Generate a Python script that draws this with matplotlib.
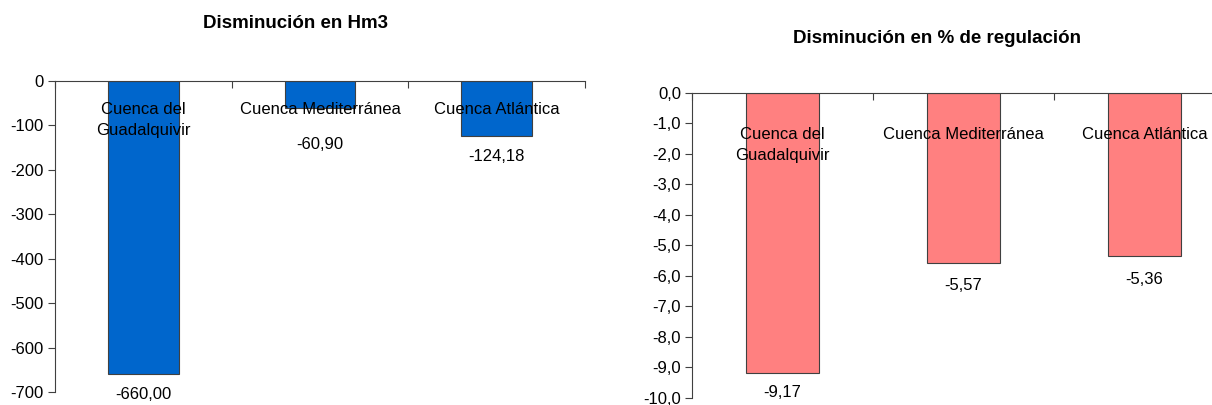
import matplotlib
matplotlib.use('Agg')
import matplotlib.pyplot as plt

plt.rcParams['font.family'] = ['Liberation Sans', 'DejaVu Sans']

cuencas = ['Cuenca del\nGuadalquivir', 'Cuenca Mediterránea', 'Cuenca Atlántica']
hm3 = [-660.00, -60.90, -124.18]
porc = [-9.17, -5.57, -5.36]

hm3_ticks = [0, -100, -200, -300, -400, -500, -600, -700]
porc_ticks = [0, -1, -2, -3, -4, -5, -6, -7, -8, -9, -10]


def coma(v, dec):
    return f'{v:.{dec}f}'.replace('.', ',')


def dibujar(ax, valores, color, ticks, dec_tick, cat_y, extra):
    x = range(len(valores))
    ax.bar(x, valores, width=0.4, color=color, edgecolor='#404040', linewidth=0.8, zorder=2)
    ax.set_xlim(-0.5, len(valores) - 0.5)
    ax.set_ylim(ticks[-1], ticks[0])
    ax.set_yticks(ticks)
    ax.set_yticklabels([coma(t, dec_tick) for t in ticks])
    for s in ['top', 'right']:
        ax.spines[s].set_visible(False)
    ax.spines['bottom'].set_position(('data', 0))
    ax.spines['bottom'].set_color('#404040')
    ax.spines['left'].set_color('#404040')
    ax.set_xticks([i - 0.5 for i in range(len(valores) + 1)])
    ax.set_xticklabels([])
    ax.tick_params(axis='x', direction='out', length=5, color='#404040')
    ax.tick_params(axis='y', direction='out', length=5, color='#404040', labelsize=12, pad=3)
    for i, (c, v) in enumerate(zip(cuencas, valores)):
        ax.text(i, cat_y, c, ha='center', va='top', fontsize=12, linespacing=1.5, zorder=3)
        ax.annotate(coma(v, 2), (i, v), xytext=(0, -9 - extra[i]), textcoords='offset points',
                    ha='center', va='top', fontsize=12)


fig = plt.figure(figsize=(12.12, 4.05), dpi=100)

ax1 = fig.add_axes([0.0454, 0.0321, 0.4373, 0.7679])
dibujar(ax1, hm3, '#0066CC', hm3_ticks, 0, -48, [0, 12, 0])
fig.text(0.244, 0.943, 'Disminución en Hm3', ha='center', va='center', fontsize=13.5, fontweight='bold')

ax2 = fig.add_axes([0.571, 0.0173, 0.448, 0.7531])
dibujar(ax2, porc, '#FF8080', porc_ticks, 1, -1.1, [0, 2, 2])
fig.text(0.773, 0.906, 'Disminución en % de regulación', ha='center', va='center', fontsize=13.5, fontweight='bold')

fig.savefig('out.png', dpi=100)
